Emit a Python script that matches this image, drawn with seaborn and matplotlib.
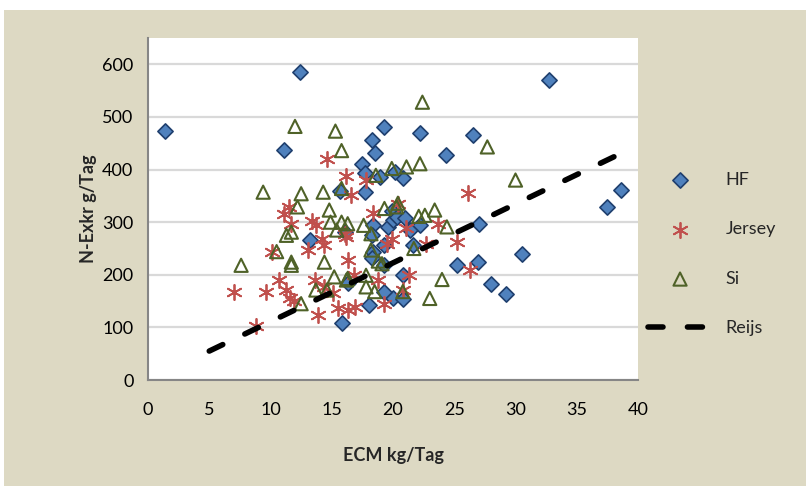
import matplotlib
matplotlib.use("Agg")
import matplotlib.pyplot as plt
import seaborn as sns
from matplotlib.patches import Rectangle
from matplotlib.ticker import MultipleLocator

# ---- data ----
hf_x = [1.4, 12.4, 11.1, 32.7, 19.3, 18.3, 18.5, 17.5, 22.2, 26.5, 24.3, 38.6, 37.5, 27.0,
        30.5, 25.2, 26.9, 28.0, 29.2, 20.8, 20.0, 20.8, 19.3, 19.6, 20.0, 21.4, 22.2, 19.3,
        19.3, 13.2, 18.4, 18.3, 18.4, 16.3, 18.0, 15.8, 17.7, 18.9, 15.7, 17.7, 19.9, 20.3,
        16.1, 20.8, 20.2, 21.0, 21.6, 18.3]
hf_y = [474, 586, 438, 571, 480, 457, 431, 411, 469, 466, 427, 361, 329, 297,
        239, 219, 224, 183, 163, 199, 155, 153, 168, 291, 304, 285, 294, 256,
        218, 266, 294, 275, 243, 185, 142, 109, 393, 386, 360, 357, 322, 310,
        281, 383, 395, 307, 256, 231]

jersey_x = [14.6, 16.2, 17.8, 16.6, 11.5, 11.1, 13.4, 18.4, 11.7, 13.7, 10.1, 13.1, 14.2, 14.4,
            16.3, 16.2, 19.5, 19.9, 10.7, 7.0, 9.6, 11.3, 11.6, 11.9, 13.6, 15.1, 13.9, 15.5,
            16.3, 16.9, 8.8, 18.8, 19.3, 16.8, 14.4, 21.1, 22.7, 23.7, 25.2, 26.3, 21.3, 20.8,
            26.1, 20.4, 16.1]
jersey_y = [420, 388, 380, 351, 328, 315, 302, 318, 297, 295, 244, 247, 268, 256,
            228, 272, 259, 268, 190, 168, 168, 171, 155, 150, 190, 165, 123, 136,
            133, 139, 102, 190, 145, 199, 177, 288, 259, 297, 262, 209, 199, 171,
            355, 335, 278]

si_x = [12.0, 15.3, 15.8, 9.4, 12.5, 14.3, 18.6, 19.9, 15.8, 14.8, 12.2, 19.3, 22.4, 27.7,
        21.1, 22.2, 30.0, 20.3, 22.1, 23.4, 24.4, 21.7, 19.1, 24.0, 23.0, 20.8, 14.9, 15.8,
        16.3, 15.4, 17.6, 11.3, 11.7, 10.5, 11.7, 11.7, 7.6, 14.4, 15.2, 13.7, 14.6, 12.5,
        16.2, 17.8, 18.2, 17.8, 18.5, 18.8, 20.4, 22.6, 18.2, 16.3]
si_y = [482, 473, 436, 357, 354, 357, 389, 402, 364, 323, 329, 326, 528, 443,
        405, 411, 380, 329, 311, 323, 291, 250, 221, 191, 155, 168, 300, 300,
        297, 285, 294, 275, 281, 244, 224, 218, 218, 224, 196, 171, 171, 145,
        190, 199, 278, 177, 168, 226, 336, 313, 247, 193]

reijs_x = [5, 39]
reijs_y = [55, 435]

x_ticks = [0, 5, 10, 15, 20, 25, 30, 35, 40]
y_ticks = [0, 100, 200, 300, 400, 500, 600]

# ---- style ----
sns.set_style("white")
plt.rcParams['font.family'] = ['Lato', 'DejaVu Sans']

W, H = 806, 486
fig = plt.figure(figsize=(W / 100, H / 100), dpi=100)
fig.patch.set_facecolor('white')
fig.patches.append(Rectangle((4 / W, 0), 1 - 4 / W, 1 - 10 / H, transform=fig.transFigure,
                             facecolor='#DDD9C3', edgecolor='none', zorder=-10))

ax = fig.add_axes([148 / W, 1 - 380 / H, 490 / W, 342 / H])
ax.set_facecolor('white')

sns.scatterplot(x=hf_x, y=hf_y, marker='D', s=60, color='#4F81BD', edgecolor='#1F3F6E',
                linewidth=1.2, ax=ax, label='HF', zorder=3)
sns.scatterplot(x=jersey_x, y=jersey_y, marker=(6, 2, 0), s=120, color='#C0504D',
                linewidth=1.3, ax=ax, label='Jersey', zorder=4)
sns.scatterplot(x=si_x, y=si_y, marker='^', s=90, facecolor='none', edgecolor='#4F6228',
                linewidth=1.5, ax=ax, label='Si', zorder=5)
sns.lineplot(x=reijs_x, y=reijs_y, color='black', linewidth=4, linestyle=(0, (2.7, 4.4)),
             dash_capstyle='round', ax=ax, label='Reijs', zorder=6)

ax.set_xlim(0, 40)
ax.set_ylim(0, 650)
ax.set_xticks(x_ticks)
ax.set_yticks(y_ticks)
ax.xaxis.set_minor_locator(MultipleLocator(1))

ax.yaxis.grid(True, color='#D9D9D9', linewidth=1.6)
ax.xaxis.grid(False)
ax.set_axisbelow(True)

for s in ['top', 'right']:
    ax.spines[s].set_visible(False)
for s in ['left', 'bottom']:
    ax.spines[s].set_color('#868686')
    ax.spines[s].set_linewidth(1.5)

ax.tick_params(axis='both', which='major', direction='inout', length=9, width=1.5,
               color='#868686', labelsize=13, labelcolor='black')
ax.tick_params(axis='x', which='major', pad=11)
ax.tick_params(axis='y', which='major', pad=6)
ax.tick_params(axis='x', which='minor', direction='out', length=4, width=1.2, color='#868686')
ax.tick_params(axis='y', which='minor', left=False)

ax.set_xlabel('ECM kg/Tag', fontsize=13, fontweight='bold', labelpad=21)
ax.set_ylabel('N-Exkr g/Tag', fontsize=13, fontweight='bold', labelpad=4)

leg = ax.legend(loc='upper left', bbox_to_anchor=(648 / W, 1 - 172 / H),
                bbox_transform=fig.transFigure, frameon=False, fontsize=13,
                labelspacing=1.85, handlelength=3.55, handletextpad=0.75,
                borderpad=0, borderaxespad=0)

fig.savefig('out.png', dpi=100, facecolor=fig.get_facecolor())
